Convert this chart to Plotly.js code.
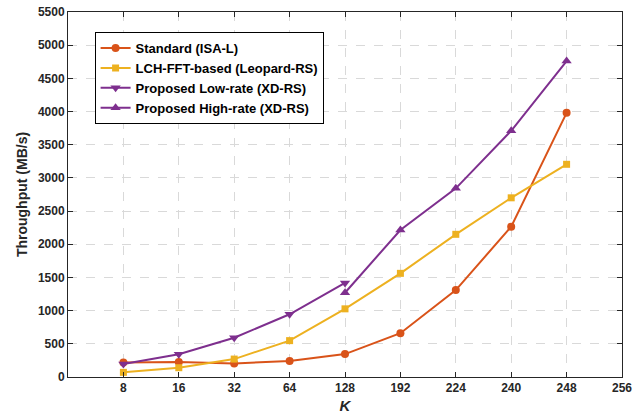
<!DOCTYPE html>
<html><head><meta charset="utf-8">
<script src="https://cdn.plot.ly/plotly-3.0.1.min.js"></script>
<style>html,body{margin:0;padding:0;background:#fff}</style>
</head><body><div id="chart" style="width:642px;height:417px"></div>
<script>
var kLabels = ['8','16','32','64','128','192','224','240','248','256'];
var kStandard = ['8','16','32','64','128','192','224','240','248'];
var standardVals = [220, 225, 205, 240, 345, 660, 1310, 2265, 3980];
var lchVals = [70, 140, 270, 548, 1027, 1562, 2150, 2700, 3205];
var kLow = ['8','16','32','64','128'];
var lowVals = [196, 342, 592, 945, 1418];
var kHigh = ['128','192','224','240','248'];
var highVals = [1270, 2215, 2843, 3710, 4760];

function pos(labels){ return labels.map(function(l){ return kLabels.indexOf(l) + 1; }); }

var cOrange = '#D95319', cYellow = '#EDB120', cPurple = '#7E2F8E';
var traces = [
  {x: pos(kStandard), y: standardVals, name: 'Standard (ISA-L)', mode: 'lines+markers',
   line: {color: cOrange, width: 2}, marker: {symbol: 'circle', size: 8, color: cOrange}},
  {x: pos(kStandard), y: lchVals, name: 'LCH-FFT-based (Leopard-RS)', mode: 'lines+markers',
   line: {color: cYellow, width: 2}, marker: {symbol: 'square', size: 7, color: cYellow}},
  {x: pos(kLow), y: lowVals, name: 'Proposed Low-rate (XD-RS)', mode: 'lines+markers',
   line: {color: cPurple, width: 2}, marker: {symbol: 'triangle-down', size: 9, color: cPurple}},
  {x: pos(kHigh), y: highVals, name: 'Proposed High-rate (XD-RS)', mode: 'lines+markers',
   line: {color: cPurple, width: 2}, marker: {symbol: 'triangle-up', size: 9, color: cPurple}}
];
var FF = 'Liberation Sans, Arial, sans-serif';
var tickFont = {family: FF, size: 12, color: '#262626', weight: 'bold'};
var layout = {
  width: 642, height: 417,
  margin: {l: 68, r: 20, t: 12, b: 40},
  paper_bgcolor: '#fff', plot_bgcolor: '#fff',
  showlegend: true,
  legend: {x: 0.048, y: 0.945, xanchor: 'left', yanchor: 'top', bgcolor: '#fff',
    bordercolor: '#000', borderwidth: 1, tracegroupgap: 0, itemwidth: 30,
    font: {family: FF, size: 13, color: '#000', weight: 'bold'}},
  xaxis: {range: [0, 10], tickvals: pos(kLabels), ticktext: kLabels, tickfont: tickFont,
    showgrid: true, gridcolor: '#d9d9d9', griddash: 'dash', gridwidth: 1,
    showline: true, linecolor: '#262626', linewidth: 1, mirror: 'ticks',
    ticks: 'inside', ticklen: 5, tickcolor: '#262626', zeroline: false,
    title: {text: '<i>K</i>', standoff: 6, font: {family: FF, size: 15, color: '#262626', weight: 'bold'}}},
  yaxis: {range: [0, 5500], dtick: 500, tickfont: tickFont,
    showgrid: true, gridcolor: '#d9d9d9', griddash: 'dash', gridwidth: 1,
    showline: true, linecolor: '#262626', linewidth: 1, mirror: 'ticks',
    ticks: 'inside', ticklen: 5, tickcolor: '#262626', zeroline: false,
    title: {text: 'Throughput (MB/s)', standoff: 6, font: {family: FF, size: 14, color: '#262626', weight: 'bold'}}}
};
Plotly.newPlot('chart', traces, layout, {displayModeBar: false, staticPlot: true});
</script></body></html>
